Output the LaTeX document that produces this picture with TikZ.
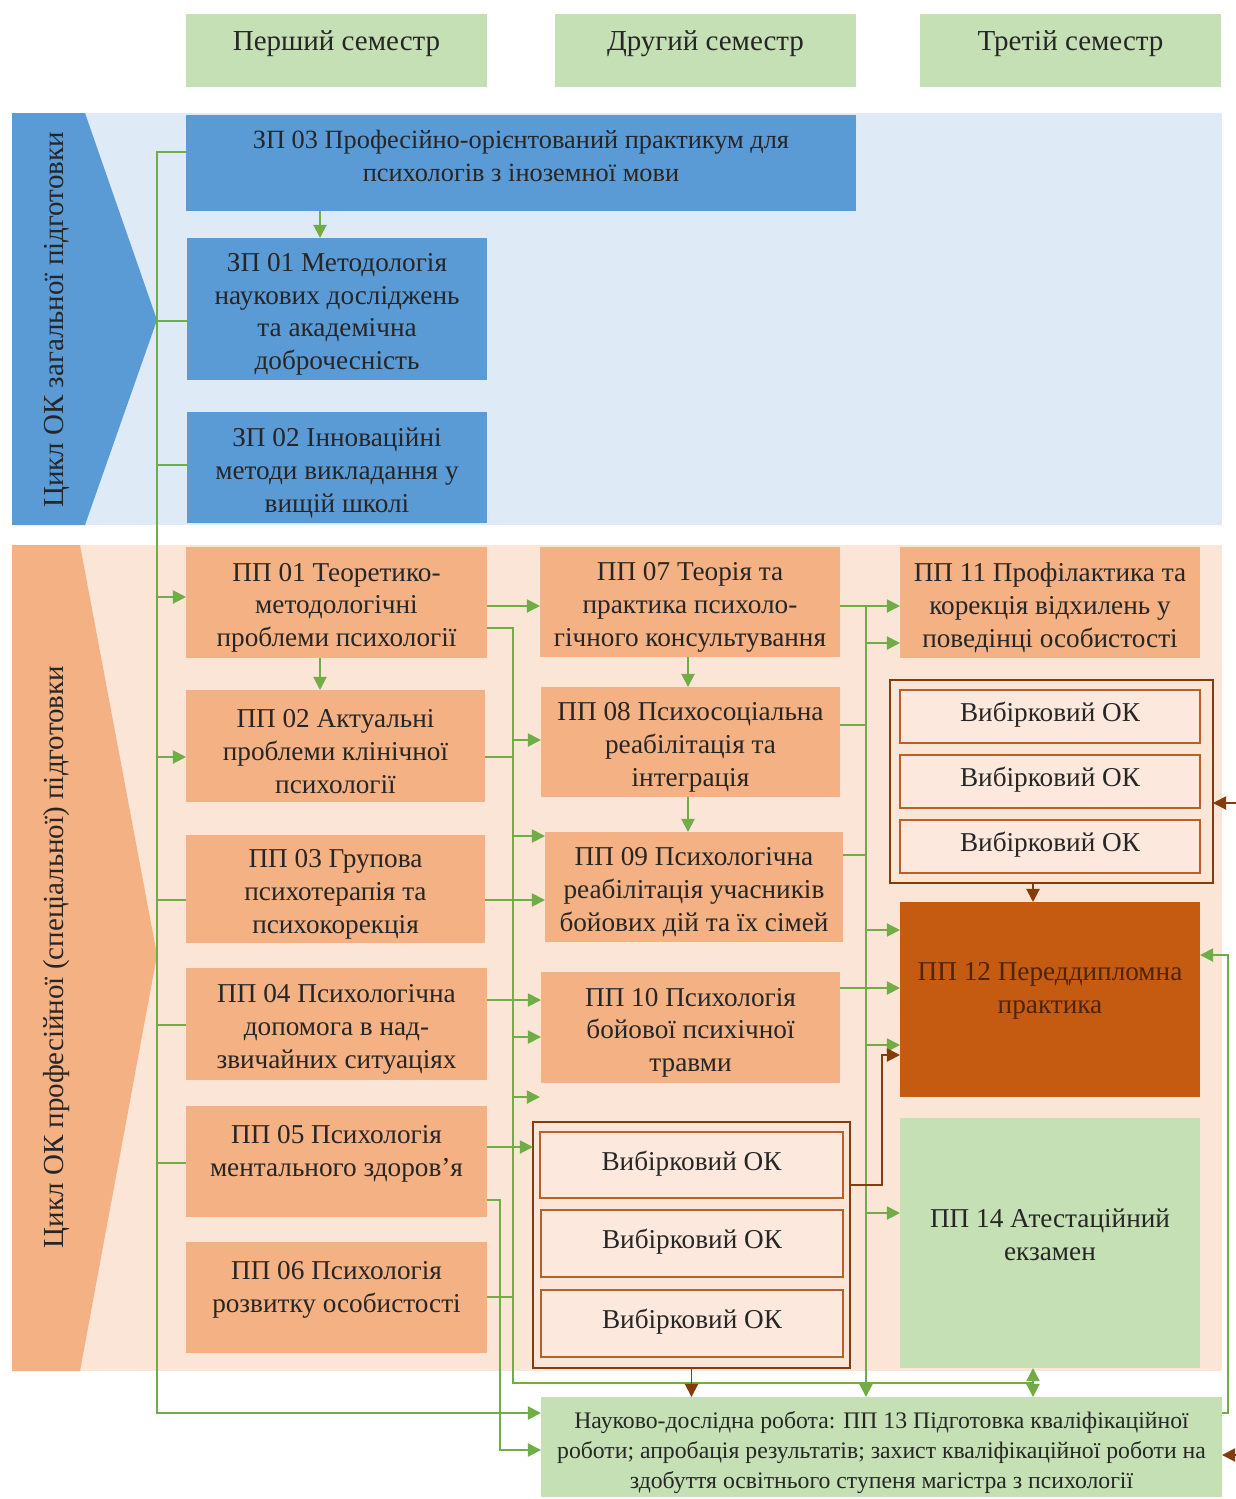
\documentclass[tikz,border=0pt]{standalone}
\usepackage{fontspec}
\setmainfont{Liberation Serif}
\usetikzlibrary{arrows.meta,fit}
\definecolor{hdr}{HTML}{C5E0B4}
\definecolor{lblue}{HTML}{DEEBF7}
\definecolor{dblue}{HTML}{5B9BD5}
\definecolor{peach}{HTML}{FBE5D6}
\definecolor{orng}{HTML}{F4B183}
\definecolor{dorng}{HTML}{C55A11}
\definecolor{lgreen}{HTML}{C5E0B4}
\definecolor{gline}{HTML}{70AD47}
\definecolor{brn}{HTML}{843C0C}
\definecolor{txt}{HTML}{262626}
\definecolor{elfill}{HTML}{FCE8DC}
\definecolor{elline}{HTML}{B8602A}
\newcommand\fsA{\fontsize{15.5}{18.7}\selectfont}
\newcommand\fsH{\fontsize{16.5}{19}\selectfont}
\newcommand\fsZ{\fontsize{15}{18.7}\selectfont}
\newcommand\fsV{\fontsize{16.5}{19}\selectfont}
\newcommand\fsN{\fontsize{13.5}{17}\selectfont}
\begin{document}
\begin{tikzpicture}[x=0.02cm,y=-0.02cm,
  box/.style={inner sep=0pt, outer sep=0pt, align=center, font=\fsA, text=txt},
  txtc/.style={label={[box,yshift=-3pt]center:{#1}}},
  txtup/.style={label={[box,yshift=4.5pt]center:{#1}}},
  hdrbox/.style={box, fill=hdr},
  bluebox/.style={box, fill=dblue},
  orbox/.style={box, fill=orng},
  elbox/.style={box, fill=elfill, draw=elline, line width=0.9pt, label={[box,yshift=1pt]center:Вибірковий ОК}},
  elframe/.style={inner sep=0pt, outer sep=0pt, draw=brn, line width=1.3pt},
  vlabel/.style={rotate=90, font=\fsV, text=txt, inner sep=0pt},
  gl/.style={draw=gline, line width=1.1pt},
  ga/.style={gl, -{Triangle[length=7.5pt,width=7.5pt]}},
  ba/.style={draw=brn, line width=1.1pt, -{Triangle[length=7.5pt,width=7.5pt]}},
]
\useasboundingbox (0,0) rectangle (1236,1499);

% backgrounds
\fill[lblue] (12,113) rectangle (1222,525);
\fill[dblue] (12,113) -- (85,113) -- (157,320) -- (85,525) -- (12,525) -- cycle;
\fill[peach] (12,545) rectangle (1222,1371);
\fill[orng] (12,545) -- (80,545) -- (157,955) -- (80,1371) -- (12,1371) -- cycle;

\node[vlabel] (vgen) at (57,320) {Цикл ОК загальної підготовки};
\node[vlabel] (vprof) at (57,957) {Цикл ОК професійної (спеціальної) підготовки};

% headers
\node[hdrbox, fit={(186,14) (487,87)}, label={[box,font=\fsH,yshift=4pt]center:Перший семестр}] (h1) {};
\node[hdrbox, fit={(555,14) (856,87)}, label={[box,font=\fsH,yshift=4pt]center:Другий семестр}] (h2) {};
\node[hdrbox, fit={(920,14) (1221,87)}, label={[box,font=\fsH,yshift=4pt]center:Третій семестр}] (h3) {};

% general cycle
\node[bluebox, fit={(186,115) (856,211)}, label={[box,font=\fsZ,yshift=4pt]center:{ЗП 03 Професійно-орієнтований практикум для\\психологів з іноземної мови}}] (zp03) {};
\node[bluebox, fit={(187,238) (487,380)}, txtc={ЗП 01 Методологія\\наукових досліджень\\та академічна\\доброчесність}] (zp01) {};
\node[bluebox, fit={(187,412) (487,523)}, txtc={ЗП 02 Інноваційні\\методи викладання у\\вищій школі}] (zp02) {};

% professional cycle, column 1
\node[orbox, fit={(186,547) (487,658)}, txtc={ПП 01 Теоретико-\\методологічні\\проблеми психології}] (pp01) {};
\node[orbox, fit={(186,690) (485,802)}, txtc={ПП 02 Актуальні\\проблеми клінічної\\психології}] (pp02) {};
\node[orbox, fit={(186,835) (485,943)}, txtc={ПП 03 Групова\\психотерапія та\\психокорекція}] (pp03) {};
\node[orbox, fit={(186,968) (487,1080)}, txtc={ПП 04 Психологічна\\допомога в над-\\звичайних ситуаціях}] (pp04) {};
\node[orbox, fit={(186,1106) (487,1217)}, txtup={ПП 05 Психологія\\ментального здоров’я}] (pp05) {};
\node[orbox, fit={(186,1242) (487,1353)}, txtup={ПП 06 Психологія\\розвитку особистості}] (pp06) {};

% column 2
\node[orbox, fit={(540,547) (840,657)}, txtc={ПП 07 Теорія та\\практика психоло-\\гічного консультування}] (pp07) {};
\node[orbox, fit={(541,687) (840,797)}, txtc={ПП 08 Психосоціальна\\реабілітація та\\інтеграція}] (pp08) {};
\node[orbox, fit={(545,832) (843,942)}, txtc={ПП 09 Психологічна\\реабілітація учасників\\бойових дій та їх сімей}] (pp09) {};
\node[orbox, fit={(541,972) (840,1083)}, txtc={ПП 10 Психологія\\бойової психічної\\травми}] (pp10) {};
\node[elframe, fit={(533,1122) (850,1368)}] (el1) {};
\node[elbox, fit={(540,1132) (843,1198)}] (e11) {};
\node[elbox, fit={(541,1210) (843,1277)}] (e12) {};
\node[elbox, fit={(541,1290) (843,1357)}] (e13) {};

% column 3
\node[orbox, fit={(900,547) (1200,658)}, txtc={ПП 11 Профілактика та\\корекція відхилень у\\поведінці особистості}] (pp11) {};
\node[elframe, fit={(890,680) (1213,883)}] (el2) {};
\node[elbox, fit={(900,690) (1200,743)}] (e21) {};
\node[elbox, fit={(900,755) (1200,808)}] (e22) {};
\node[elbox, fit={(900,820) (1200,873)}] (e23) {};
\node[box, fill=dorng, fit={(900,902) (1200,1097)}, label={[box,text=brn!60!black,yshift=5pt]center:{ПП 12 Переддипломна\\практика}}] (pp12) {};
\node[box, fill=lgreen, fit={(900,1118) (1200,1368)}, txtup={ПП 14 Атестаційний\\екзамен}] (pp14) {};

% bottom
\node[box, fill=lgreen, fit={(541,1397) (1222,1497)}, label={[box,font=\fsN,yshift=-3pt]center:{Науково-дослідна робота: ПП 13 Підготовка кваліфікаційної\\роботи; апробація результатів; захист кваліфікаційної роботи на\\здобуття освітнього ступеня магістра з психології}}] (pp13) {};

% ---- green connectors ----
% left trunk
\draw[ga] (zp03.west |- 0,152) -- (157,152) |- (pp13.west |- 0,1413);
\draw[gl] (157,321) -- (zp01.west |- 0,321);
\draw[gl] (157,465) -- (zp02.west |- 0,465);
\draw[ga] (157,597) -- (pp01.west |- 0,597);
\draw[ga] (157,757) -- (pp02.west |- 0,757);
\draw[gl] (157,900) -- (pp03.west |- 0,900);
\draw[gl] (157,1025) -- (pp04.west |- 0,1025);
\draw[gl] (157,1163) -- (pp05.west |- 0,1163);
% vertical arrows
\draw[ga] (zp03.south -| 320,0) -- (zp01.north -| 320,0);
\draw[ga] (pp01.south -| 320,0) -- (pp02.north -| 320,0);
\draw[ga] (pp07.south -| 688,0) -- (pp08.north -| 688,0);
\draw[ga] (pp08.south -| 688,0) -- (pp09.north -| 688,0);
% direct horizontals
\draw[ga] (pp01.east |- 0,606) -- (pp07.west |- 0,606);
\draw[ga] (pp03.east |- 0,900) -- (pp09.west |- 0,900);
\draw[ga] (pp04.east |- 0,1000) -- (pp10.west |- 0,1000);
\draw[ga] (pp05.east |- 0,1147) -- (el1.west |- 0,1147);
\draw[ga] (pp07.east |- 0,606) -- (pp11.west |- 0,606);
\draw[ga] (pp10.east |- 0,988) -- (pp12.west |- 0,988);
% second trunk x=513
\draw[gl] (pp01.east |- 0,628) -- (513,628) |- (1033,1383);
\draw[gl] (pp02.east |- 0,757) -- (513,757);
\draw[gl] (pp06.east |- 0,1297) -- (513,1297);
\draw[ga] (513,740) -- (pp08.west |- 0,740);
\draw[ga] (513,836) -- (pp09.west |- 0,836);
\draw[ga] (513,1037) -- (pp10.west |- 0,1037);
\coordinate (free1) at (540,1097);
\draw[ga] (513,1097) -- (free1);
\draw[ga] (1033,1383) -- (pp14.south -| 1033,0);
\draw[ga] (1033,1383) -- (pp13.north -| 1033,0);
% PP05 to PP13
\draw[ga] (pp05.east |- 0,1200) -- (500,1200) |- (pp13.west |- 0,1450);
% third trunk x=866
\draw[ga] (866,606) -- (pp13.north -| 866,0);
\draw[gl] (pp08.east |- 0,725) -- (866,725);
\draw[ga] (866,643) -- (pp11.west |- 0,643);
\draw[gl] (pp09.east |- 0,855) -- (866,855);
\draw[ga] (866,930) -- (pp12.west |- 0,930);
\draw[ga] (866,1045) -- (pp12.west |- 0,1045);
\draw[ga] (866,1213) -- (pp14.west |- 0,1213);
% right return
\draw[ga] (pp13.east |- 0,1413) -- (1228,1413) |- (pp12.east |- 0,955);

% ---- brown connectors ----
\draw[ba] (el1.east |- 0,1185) -- (882,1185) |- (pp12.west |- 0,1055);
\draw[ba] (el1.south) -- (el1.south |- pp13.north);
\draw[ba] (el2.south -| 1033,0) -- (pp12.north -| 1033,0);
\coordinate (r1) at (1236,803);
\draw[ba] (r1) -- (el2.east |- r1);
\coordinate (r2) at (1236,1455);
\draw[ba] (r2) -- (pp13.east |- r2);
\end{tikzpicture}
\end{document}
